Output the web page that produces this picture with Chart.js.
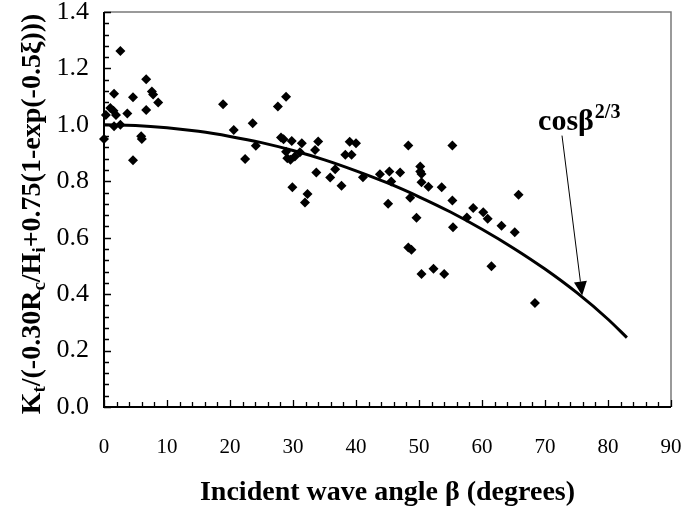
<!DOCTYPE html>
<html><head><meta charset="utf-8">
<script src="https://cdn.jsdelivr.net/npm/chart.js@4/dist/chart.umd.min.js"></script>
<style>html,body{margin:0;padding:0;background:#fff}#wrap{width:682px;height:508px}</style>
</head><body><div id="wrap"><canvas id="c" width="682" height="508"></canvas></div>
<script>
// Measured data: incident wave angle (deg) vs normalised transmission ratio
const angles = [0.0,0.3,1.0,1.5,1.9,1.6,1.6,2.6,2.6,3.7,4.6,4.6,5.9,6.0,6.7,6.7,7.6,7.8,8.6,
  18.9,20.6,22.4,23.6,24.1,27.6,28.9,28.1,28.5,28.9,29.1,29.6,29.8,29.9,30.3,31.1,31.4,31.9,32.3,33.5,33.7,34.0,35.9,36.7,37.7,38.3,39.0,39.3,40.0,
  41.1,43.8,45.1,45.3,45.6,47.0,48.3,48.6,48.3,48.8,49.6,50.2,50.2,50.4,50.4,50.4,51.5,52.3,53.6,54.0,55.3,55.3,55.4,57.6,58.6,60.2,60.9,61.5,63.1,65.2,65.8,68.4];
const ratios = [0.95,1.035,1.06,1.05,1.035,1.11,0.995,1.0,1.262,1.04,1.098,0.875,0.96,0.95,1.162,1.053,1.118,1.108,1.079,
  1.073,0.982,0.879,1.006,0.926,1.065,1.100,0.955,0.949,0.905,0.882,0.876,0.943,0.779,0.888,0.903,0.935,0.725,0.755,0.911,0.831,0.941,0.813,0.843,0.784,0.894,0.940,0.894,0.935,
  0.814,0.825,0.720,0.835,0.799,0.831,0.927,0.742,0.565,0.557,0.671,0.852,0.835,0.826,0.797,0.471,0.781,0.490,0.779,0.471,0.927,0.732,0.637,0.672,0.705,0.690,0.667,0.499,0.642,0.619,0.752,0.369];
// cos(beta)^(2/3) curve
const curveAngles = [0,5,10,15,20,25,30,35,40,45,50,55,60,65,70,75,80,83];
const curveValues = [1.000,0.998,0.990,0.977,0.959,0.937,0.909,0.876,0.837,0.794,0.745,0.691,0.630,0.563,0.489,0.406,0.311,0.246];
const xTickValues = [0,10,20,30,40,50,60,70,80,90];
const yTickValues = [0,0.2,0.4,0.6,0.8,1.0,1.2,1.4];
const xTitle = 'Incident wave angle \u03B2 (degrees)';
const yTitleParts = [['K',0],['t',1],['/(-0.30R',0],['c',1],['/H',0],['i',1],['+0.75(1-exp(-0.5\u03BE)))',0]];
const curveLabel = ['cos\u03B2','2/3'];
const labelAt = [68.9, 0.982];
const arrowFrom = [72.7, 0.962];
const arrowTo = [75.9, 0.395];

const FONT = "'Liberation Serif','Times New Roman',serif";

const framePlugin = {
  id: 'frame',
  beforeDatasetsDraw(chart) {
    const {ctx, chartArea: a, scales: {x, y}} = chart;
    ctx.save();
    ctx.strokeStyle = '#7a7a7a'; ctx.lineWidth = 1.5;
    ctx.beginPath(); ctx.moveTo(a.left, a.top); ctx.lineTo(a.right, a.top); ctx.lineTo(a.right, a.bottom); ctx.stroke();
    ctx.strokeStyle = '#000'; ctx.lineWidth = 1.3;
    ctx.beginPath();
    for (let i = 0; i <= 45; i++) {
      const px = Math.round(x.getPixelForValue(i * 2)) + 0.5;
      const len = (i % 5 === 0) ? 7 : 5;
      ctx.moveTo(px, a.bottom); ctx.lineTo(px, a.bottom - len);
    }
    for (let i = 0; i <= 35; i++) {
      const py = Math.round(y.getPixelForValue(i * 0.04)) + 0.5;
      const len = (i % 5 === 0) ? 7 : 5;
      ctx.moveTo(a.left, py); ctx.lineTo(a.left + len, py);
    }
    ctx.stroke();
    ctx.lineWidth = 2;
    ctx.beginPath(); ctx.moveTo(a.left, a.top); ctx.lineTo(a.left, a.bottom); ctx.lineTo(a.right, a.bottom); ctx.stroke();
    ctx.restore();
  },
  afterDraw(chart) {
    const {ctx, chartArea: a, scales: {x, y}} = chart;
    ctx.save();
    ctx.fillStyle = '#000';
    // rotated y-axis title with subscripts
    const big = 'bold 28px ' + FONT, small = 'bold 19px ' + FONT;
    let total = 0;
    yTitleParts.forEach(p => { ctx.font = p[1] ? small : big; total += ctx.measureText(p[0]).width; });
    ctx.translate(40, 214);
    ctx.rotate(-Math.PI / 2);
    ctx.textBaseline = 'alphabetic';
    let cx = -total / 2;
    yTitleParts.forEach(p => {
      ctx.font = p[1] ? small : big;
      ctx.fillText(p[0], cx, p[1] ? 5 : 0);
      cx += ctx.measureText(p[0]).width;
    });
    ctx.setTransform(1, 0, 0, 1, 0, 0);
    // curve label with superscript
    const lx = x.getPixelForValue(labelAt[0]), ly = y.getPixelForValue(labelAt[1]);
    ctx.font = 'bold 30px ' + FONT;
    ctx.fillText(curveLabel[0], lx, ly);
    const w = ctx.measureText(curveLabel[0]).width;
    ctx.font = 'bold 20px ' + FONT;
    ctx.fillText(curveLabel[1], lx + w + 1, ly - 12);
    // arrow
    const x1 = x.getPixelForValue(arrowFrom[0]), y1 = y.getPixelForValue(arrowFrom[1]);
    const x2 = x.getPixelForValue(arrowTo[0]), y2 = y.getPixelForValue(arrowTo[1]);
    const ang = Math.atan2(y2 - y1, x2 - x1), L = 14, W = 6.5;
    const bx = x2 - L * Math.cos(ang), by = y2 - L * Math.sin(ang);
    ctx.strokeStyle = '#000'; ctx.lineWidth = 1;
    ctx.beginPath(); ctx.moveTo(x1, y1); ctx.lineTo(bx, by); ctx.stroke();
    ctx.beginPath();
    ctx.moveTo(x2, y2);
    ctx.lineTo(bx + W * Math.sin(ang), by - W * Math.cos(ang));
    ctx.lineTo(bx - W * Math.sin(ang), by + W * Math.cos(ang));
    ctx.closePath(); ctx.fill();
    ctx.restore();
  }
};

new Chart(document.getElementById('c'), {
  type: 'scatter',
  data: {
    datasets: [
      {
        label: 'cos\u03B2^(2/3)',
        data: curveAngles.map((v, i) => ({x: v, y: curveValues[i]})),
        showLine: true, borderColor: '#000', borderWidth: 3, pointRadius: 0,
        cubicInterpolationMode: 'monotone', fill: false, order: 2
      },
      {
        label: 'Data',
        data: angles.map((v, i) => ({x: v, y: ratios[i]})),
        pointStyle: 'rectRot', pointRadius: 5, backgroundColor: '#000', borderColor: '#000',
        borderWidth: 0, clip: false, order: 1
      }
    ]
  },
  options: {
    responsive: false, animation: false, devicePixelRatio: 1,
    layout: {padding: {top: 12, right: 11, left: 0, bottom: 0}},
    plugins: {legend: {display: false}, tooltip: {enabled: false}},
    scales: {
      x: {
        type: 'linear', min: 0, max: 90,
        afterFit: s => { s.height = 101; s.paddingLeft = 0; s.paddingRight = 0; },
        afterBuildTicks: s => { s.ticks = xTickValues.map(v => ({value: v})); },
        grid: {display: false, drawTicks: false},
        border: {display: false},
        ticks: {color: '#000', padding: 28, maxRotation: 0, font: {family: FONT, size: 21}},
        title: {display: true, text: xTitle, color: '#000', padding: {top: 0, bottom: 0}, font: {family: FONT, size: 28, weight: 'bold', lineHeight: 1.1}}
      },
      y: {
        type: 'linear', min: 0, max: 1.4,
        afterFit: s => { s.width = 104; s.paddingTop = 0; s.paddingBottom = 0; },
        afterBuildTicks: s => { s.ticks = yTickValues.map(v => ({value: v})); },
        grid: {display: false, drawTicks: false},
        border: {display: false},
        ticks: {color: '#000', padding: 15, font: {family: FONT, size: 26, lineHeight: 1}, callback: v => Number(v).toFixed(1)},
        title: {display: false}
      }
    }
  },
  plugins: [framePlugin]
});
</script>
</body></html>
